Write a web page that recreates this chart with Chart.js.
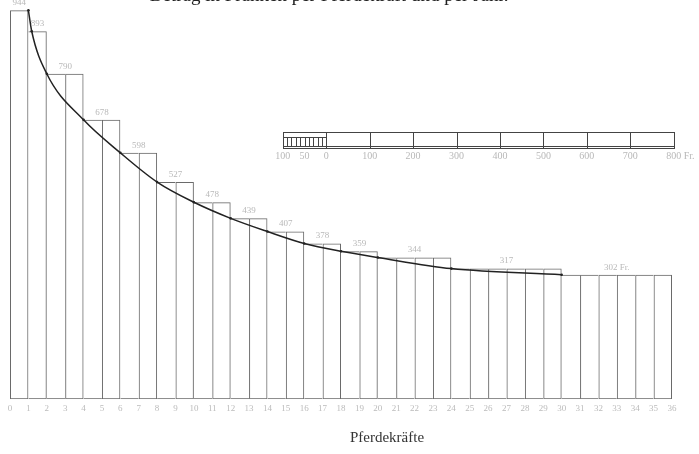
<!DOCTYPE html>
<html>
<head>
<meta charset="utf-8">
<script src="https://cdn.jsdelivr.net/npm/chart.js@4.4.0/dist/chart.umd.min.js"></script>
<style>
  html, body { margin: 0; padding: 0; background: #fff; }
  #wrap { width: 699px; height: 454px; overflow: hidden; }
  #wrap canvas { display: block; margin-top: -15px; }
</style>
</head>
<body>
<div id="wrap"><canvas id="chart" width="699" height="469"></canvas></div>
<script>
// Betrag in Franken per Pferdekraft und per Jahr, one bar per HP
const horsepower = [1, 2, 3, 4, 5, 6, 7, 8, 9, 10, 11, 12, 13, 14, 15, 16, 17, 18,
                    19, 20, 21, 22, 23, 24, 25, 26, 27, 28, 29, 30, 31, 32, 33, 34, 35, 36];
const amountPerHp = [944, 893, 790, 790, 678, 678, 598, 598, 527, 527, 478, 478, 439, 439,
                     407, 407, 378, 378, 359, 359, 344, 344, 344, 344, 317, 317, 317, 317,
                     317, 317, 302, 302, 302, 302, 302, 302];

// smooth curve through the step corners
const curveHp = [1, 1.18, 2, 4, 6, 8, 10, 12, 14, 16, 18, 20, 24, 30];
const curveAmount = [944, 893, 790, 678, 598, 527, 478, 439, 407, 378, 359, 344, 317, 302];

// Massstab (scale bar) in Franken
const scaleBarTicks = [-100, -50, 0, 100, 200, 300, 400, 500, 600, 700, 800];
const scaleBarLabels = ['100', '50', '0', '100', '200', '300', '400', '500', '600', '700', '800'];
const scaleBarTop = 649, scaleBarComb = 637, scaleBarBottom = 610, scaleBarText = 590;

const serif = "'Liberation Serif', 'DejaVu Serif', serif";

// only one line where two bars touch; the taller bar owns the shared edge
function edgeWidths(ctx) {
    const i = ctx.dataIndex;
    const v = amountPerHp[i];
    const prev = i > 0 ? amountPerHp[i - 1] : null;
    const next = i < amountPerHp.length - 1 ? amountPerHp[i + 1] : null;
    return {
        top: 1,
        bottom: 1,
        left: prev !== null && prev > v ? 0 : 1,
        right: next === null || next < v ? 1 : 0
    };
}

const extras = {
    id: 'extras',
    afterDatasetsDraw(chart) {
        const { ctx, scales: { x, y, fr }, chartArea } = chart;
        ctx.save();

        // value labels above each step
        ctx.font = '9px ' + serif;
        ctx.fillStyle = '#b8b8b8';
        ctx.textAlign = 'center';
        ctx.textBaseline = 'bottom';
        let start = 0;
        for (let i = 1; i <= amountPerHp.length; i++) {
            if (i === amountPerHp.length || amountPerHp[i] !== amountPerHp[start]) {
                const mid = (start + i) / 2;
                let txt = String(amountPerHp[start]);
                if (i === amountPerHp.length) txt += ' Fr.';
                ctx.fillText(txt, x.getPixelForValue(mid), y.getPixelForValue(amountPerHp[start]) - 3);
                start = i;
            }
        }

        // scale bar
        const yT = Math.round(y.getPixelForValue(scaleBarTop)) + 0.5;
        const yC = Math.round(y.getPixelForValue(scaleBarComb)) + 0.5;
        const yB = Math.round(y.getPixelForValue(scaleBarBottom)) + 0.5;
        const x0 = Math.round(fr.getPixelForValue(scaleBarTicks[0])) + 0.5;
        const x1 = Math.round(fr.getPixelForValue(scaleBarTicks[scaleBarTicks.length - 1])) + 0.5;
        ctx.strokeStyle = '#444';
        ctx.lineWidth = 1;
        ctx.strokeRect(x0, yT, x1 - x0, yB - yT);
        ctx.beginPath();
        ctx.moveTo(x0, yB - 2);
        ctx.lineTo(x1, yB - 2);
        scaleBarTicks.forEach(v => {
            if (v >= 0) {
                const px = Math.round(fr.getPixelForValue(v)) + 0.5;
                ctx.moveTo(px, yT);
                ctx.lineTo(px, yB);
            }
        });
        ctx.stroke();
        // comb between 100 and 0
        ctx.beginPath();
        ctx.moveTo(x0, yC);
        ctx.lineTo(Math.round(fr.getPixelForValue(0)) + 0.5, yC);
        for (let v = -100; v <= 0; v += 10) {
            const px = Math.round(fr.getPixelForValue(v)) + 0.5;
            ctx.moveTo(px, yC);
            ctx.lineTo(px, yB - 2);
        }
        ctx.stroke();

        ctx.font = '10px ' + serif;
        ctx.fillStyle = '#b8b8b8';
        ctx.textBaseline = 'middle';
        const ty = y.getPixelForValue(scaleBarText);
        scaleBarTicks.forEach((v, i) => {
            const px = fr.getPixelForValue(v);
            ctx.textAlign = 'center';
            ctx.fillText(scaleBarLabels[i], px, ty);
            if (i === scaleBarTicks.length - 1) {
                ctx.textAlign = 'left';
                ctx.fillText(' Fr.', px + ctx.measureText(scaleBarLabels[i]).width / 2, ty);
            }
        });

        // axis caption
        ctx.font = '15px ' + serif;
        ctx.fillStyle = '#333';
        ctx.textAlign = 'center';
        ctx.textBaseline = 'middle';
        ctx.fillText('Pferdekräfte', x.getPixelForValue(20.5), chartArea.bottom + 39);
        ctx.restore();
    }
};

new Chart(document.getElementById('chart'), {
    type: 'bar',
    data: {
        datasets: [
            {
                type: 'line',
                data: curveHp.map((h, i) => ({ x: h, y: curveAmount[i] })),
                borderColor: '#222',
                borderWidth: 1.5,
                pointRadius: 1.3,
                pointBackgroundColor: '#222',
                pointBorderWidth: 0,
                cubicInterpolationMode: 'monotone',
                fill: false,
                order: 0
            },
            {
                data: horsepower.map((h, i) => ({ x: h - 0.5, y: amountPerHp[i] })),
                backgroundColor: 'rgba(255,255,255,0)',
                borderColor: '#6a6a6a',
                borderWidth: edgeWidths,
                borderSkipped: false,
                inflateAmount: 0,
                barPercentage: 1,
                categoryPercentage: 1,
                order: 1
            }
        ]
    },
    options: {
        responsive: false,
        animation: false,
        layout: { padding: { left: 10, right: 27, top: 0, bottom: 36 } },
        plugins: {
            legend: { display: false },
            tooltip: { enabled: false },
            title: {
                display: true,
                text: 'Betrag in Franken per Pferdekraft und per Jahr.\u00a0\u00a0\u00a0\u00a0\u00a0',
                color: '#222',
                font: { family: serif, size: 19, weight: 'normal' },
                padding: { top: 0, bottom: 0 }
            }
        },
        scales: {
            x: {
                type: 'linear',
                offset: false,
                min: 0,
                max: 36,
                grid: { display: false, drawTicks: false, offset: false },
                border: { display: false },
                ticks: {
                    stepSize: 1,
                    autoSkip: false,
                    maxRotation: 0,
                    padding: 4,
                    color: '#bbb',
                    font: { family: serif, size: 9 }
                }
            },
            fr: {
                type: 'linear',
                axis: 'x',
                position: 'top',
                offset: false,
                min: -728,
                max: 796,
                grid: { display: false, drawTicks: false },
                border: { display: false },
                ticks: { display: false }
            },
            y: {
                display: false,
                min: 0,
                max: 950
            }
        }
    },
    plugins: [extras]
});
</script>
</body>
</html>
